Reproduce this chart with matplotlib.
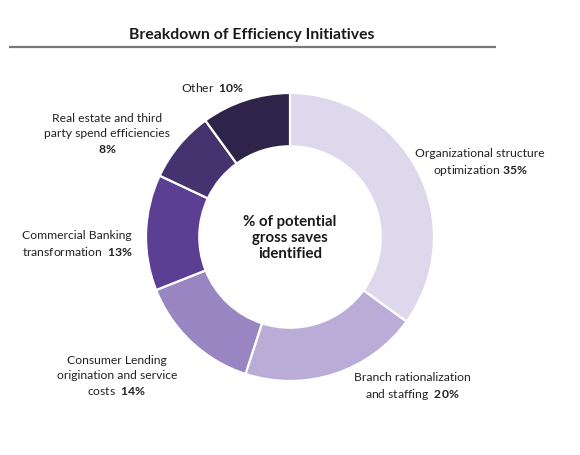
import matplotlib
matplotlib.use("Agg")
import matplotlib.pyplot as plt

# data
categories = ["Organizational structure optimization",
              "Branch rationalization and staffing",
              "Consumer Lending origination and service costs",
              "Commercial Banking transformation",
              "Real estate and third party spend efficiencies",
              "Other"]
shares = [35, 20, 14, 13, 8, 10]
colors = ["#DDD8EC", "#B9ADD8", "#9885C2", "#5A3F93", "#45336F", "#2E2349"]

plt.rcParams['font.family'] = ['Lato', 'DejaVu Sans']
plt.rcParams['mathtext.fontset'] = 'custom'
plt.rcParams['mathtext.bf'] = 'Lato:bold'
plt.rcParams['mathtext.rm'] = 'Lato'

W, H = 580, 456
fig = plt.figure(figsize=(W / 100, H / 100), dpi=100)
ax = fig.add_axes([0, 0, 1, 1])

cx, cy, r = 290, H - 238, 144
ax.pie(shares, colors=colors, startangle=90, counterclock=False,
       center=(cx, cy), radius=r,
       wedgeprops=dict(width=r * 0.37, edgecolor="white", linewidth=1.6))
ax.set_xlim(0, W)
ax.set_ylim(0, H)
ax.set_aspect("equal")
ax.axis("off")

# title and rule
ax.text(252, H - 35, "Breakdown of Efficiency Initiatives", ha="center", va="center",
        fontsize=11.3, fontweight="bold", color="#1a1a1a")
ax.plot([9, 496], [H - 48, H - 48], color="#777777", lw=1.6, solid_capstyle="butt")

# centre text
ax.text(cx, H - 238, "% of potential\ngross saves\nidentified", ha="center", va="center",
        fontsize=10.8, fontweight="bold", color="#1a1a1a", linespacing=1.2)

fs = 8.7
tc = "#222222"

def bold(pct):
    return r"$\bf{" + pct.replace("%", r"\%") + "}$"

def label(x, y, lines, pct, ha="center", sep="  "):
    last = (lines[-1] + sep if lines[-1] else "") + bold(pct)
    txt = "\n".join(lines[:-1] + [last])
    ax.text(x, H - y, txt, ha=ha, va="center", fontsize=fs, color=tc,
            linespacing=1.4, multialignment=ha)

label(213, 87, ["Other"], "10%")
label(107, 134, ["Real estate and third", "party spend efficiencies", ""], "8%")
label(22, 244, ["Commercial Banking", "transformation"], "13%", ha="left")
label(117, 376, ["Consumer Lending", "origination and service", "costs"], "14%")
label(412, 387, ["Branch rationalization", "and staffing"], "20%")
label(480, 163, ["Organizational structure", "optimization"], "35%", sep=" ")

fig.savefig("out.png", dpi=100)
